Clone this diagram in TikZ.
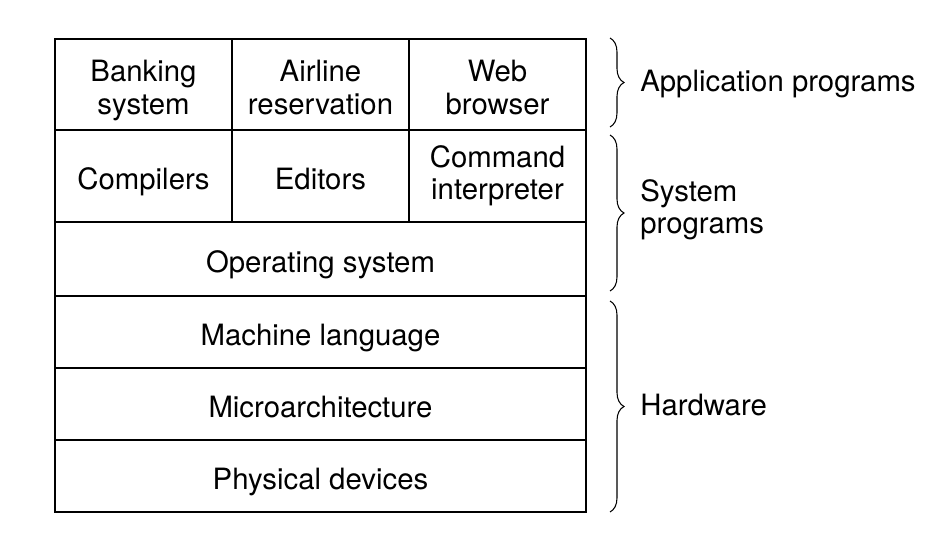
\documentclass[tikz,border=0pt]{standalone}
\usepackage{fontspec}
\setmainfont{TeX Gyre Heros}
\usetikzlibrary{decorations.pathreplacing}
\newcommand{\toprule}{\rule{0pt}{1.13em}}

\begin{document}
\begin{tikzpicture}[x=0.02cm,y=-0.02cm,
		every node/.style={font=\fontsize{16.7}{18.4}\selectfont},
		cell/.style={draw,line width=1.1pt,inner sep=0pt,align=center,minimum width=177*0.02cm,
			execute at begin node={\toprule},execute at end node={\vphantom{gy}}},
		layer/.style={cell,minimum width=531*0.02cm,minimum height=72*0.02cm},
		side/.style={anchor=west,inner sep=0pt,align=left},
		brace/.style={decorate,decoration={brace,amplitude=0.28cm},line width=0.6pt}]
				\useasboundingbox (0,0) rectangle (934,548);
				% top row: application programs
				\node[cell,minimum height=91*0.02cm] (bank) at (143.5,84.5) {\toprule Banking\\system};
				\node[cell,minimum height=91*0.02cm] (air) at (320.5,84.5) {\toprule Airline\\reservation};
				\node[cell,minimum height=91*0.02cm] (web) at (497.5,84.5) {\toprule Web\\browser};
				% second row: system programs
				\node[cell,minimum height=92*0.02cm] (comp) at (143.5,176) {Compilers};
				\node[cell,minimum height=92*0.02cm] (edit) at (320.5,176) {Editors};
				\node[cell,minimum height=92*0.02cm] (cmd) at (497.5,176) {Command\\interpreter};
				% full width layers
				\node[layer,minimum height=74*0.02cm] (os) at (320.5,259) {Operating system};
				\node[layer] (ml) at (320.5,332) {Machine language};
				\node[layer] (micro) at (320.5,404) {Microarchitecture};
				\node[layer] (phys) at (320.5,476) {Physical devices};
				
				% braces on the right
				\coordinate (a1) at (610,38);
				\coordinate (a2) at (610,127);
				\coordinate (s1) at (610,135);
				\coordinate (s2) at (610,291);
				\coordinate (h1) at (610,301);
				\coordinate (h2) at (610,512);
				\draw[brace] (a1) -- (a2);
				\draw[brace] (s1) -- (s2);
				\draw[brace] (h1) -- (h2);
				\node[side] (app) at (640,84) {Application programs};
				\node[side] (sys) at (640,210) {System\\programs};
				\node[side] (hw) at (640,405) {Hardware};
			\end{tikzpicture}
\end{document}
